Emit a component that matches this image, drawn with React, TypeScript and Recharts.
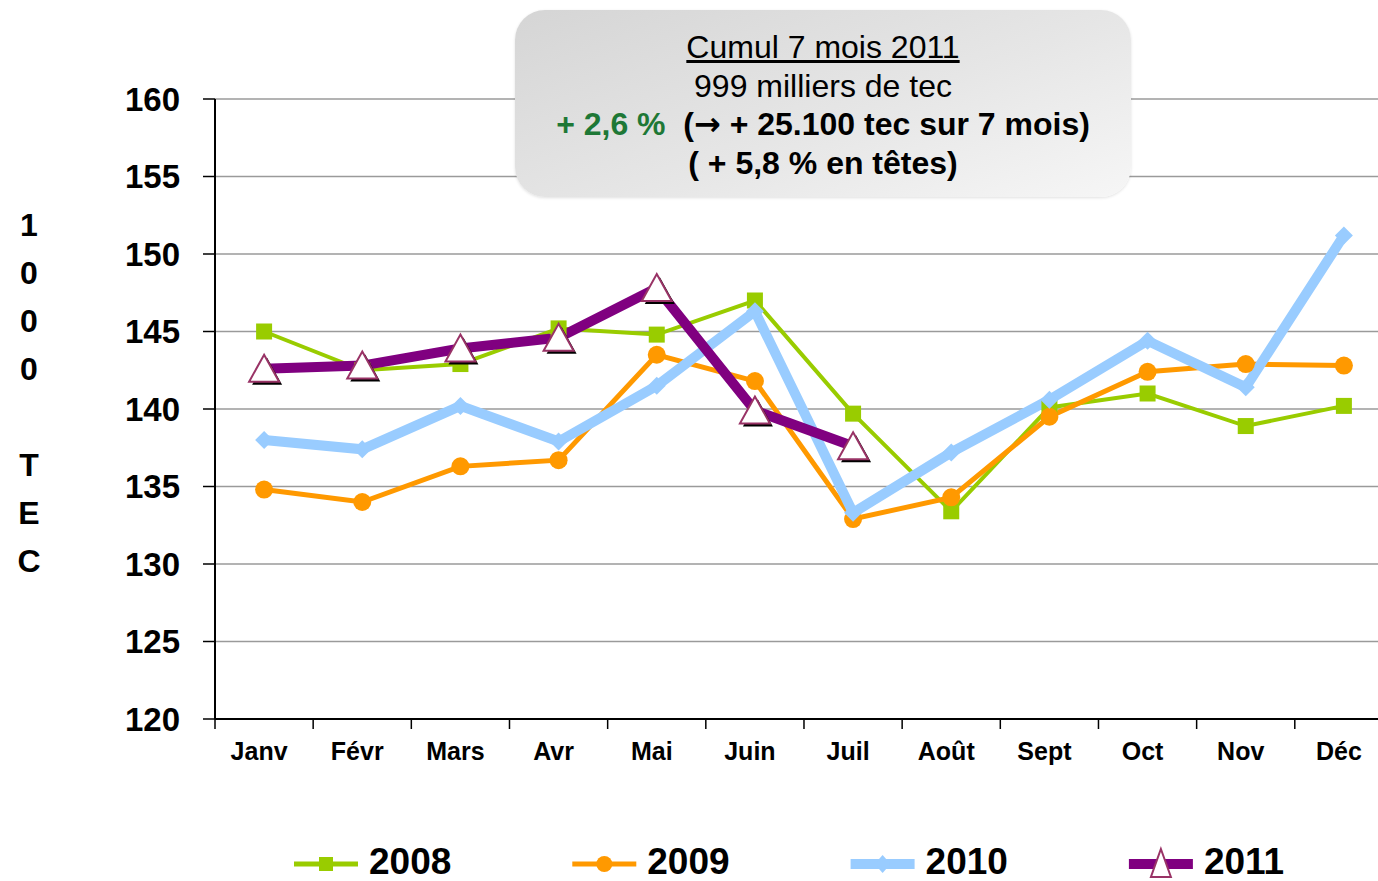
import React from "react";
import { LineChart, Line, XAxis, YAxis, CartesianGrid } from "recharts";

const months = ["Janv", "Févr", "Mars", "Avr", "Mai", "Juin", "Juil", "Août", "Sept", "Oct", "Nov", "Déc"];
const v2008 = [145.0, 142.5, 142.9, 145.2, 144.8, 147.0, 139.7, 133.4, 140.1, 141.0, 138.9, 140.2];
const v2009 = [134.8, 134.0, 136.3, 136.7, 143.5, 141.8, 132.9, 134.3, 139.5, 142.4, 142.9, 142.8];
const v2010 = [138.0, 137.4, 140.2, 137.9, 141.5, 146.3, 133.3, 137.2, 140.6, 144.4, 141.4, 151.2];
const v2011 = [142.6, 142.8, 143.9, 144.6, 147.8, 139.9, 137.6];
const yTicks = [120, 125, 130, 135, 140, 145, 150, 155, 160];
const yLabel = ["1", "0", "0", "0", "\u00a0", "T", "E", "C"];

const data = months.map((m, i) => ({
  month: m,
  y2008: v2008[i],
  y2009: v2009[i],
  y2010: v2010[i],
  y2011: v2011[i] ?? null,
}));

const FONT = '"Liberation Sans", Arial, Helvetica, sans-serif';
const HALF_STEP = 49.1;

const GREEN = "#99cc00";
const ORANGE = "#ff9900";
const BLUE = "#99ccff";
const PURPLE = "#800080";
const TRI_EDGE = "#993366";

function MonthTick(props: any) {
  const { x, y, payload, index } = props;
  return (
    <g>
      <line x1={x - HALF_STEP} y1={y} x2={x - HALF_STEP} y2={y + 10} stroke="#000" strokeWidth={1.5} />
      {index === months.length - 1 && (
        <line x1={x + HALF_STEP} y1={y} x2={x + HALF_STEP} y2={y + 10} stroke="#000" strokeWidth={1.5} />
      )}
      <text x={x - 5} y={y + 41} textAnchor="middle" fontFamily={FONT} fontWeight="bold" fontSize={25} fill="#000">
        {payload.value}
      </text>
    </g>
  );
}

const squareDot = (p: any) =>
  p.cy == null ? <g key={p.index} /> : <rect key={p.index} x={p.cx - 8} y={p.cy - 8} width={16} height={16} fill={GREEN} />;

const circleDot = (p: any) =>
  p.cy == null ? <g key={p.index} /> : <circle key={p.index} cx={p.cx} cy={p.cy} r={9} fill={ORANGE} />;

const diamondDot = (p: any) =>
  p.cy == null ? (
    <g key={p.index} />
  ) : (
    <polygon
      key={p.index}
      points={`${p.cx},${p.cy - 9} ${p.cx + 9},${p.cy} ${p.cx},${p.cy + 9} ${p.cx - 9},${p.cy}`}
      fill={BLUE}
    />
  );

const triPts = (cx: number, cy: number) => `${cx},${cy - 14} ${cx + 15},${cy + 13} ${cx - 15},${cy + 13}`;

const triangleDot = (p: any) =>
  p.cy == null ? (
    <g key={p.index} />
  ) : (
    <g key={p.index}>
      <polygon points={triPts(p.cx + 3, p.cy + 3)} fill="#000" />
      <polygon points={triPts(p.cx, p.cy)} fill="#fff" stroke={TRI_EDGE} strokeWidth={2} />
    </g>
  );

const legendItems = [
  { name: "2008", color: GREEN, width: 5, marker: "square" },
  { name: "2009", color: ORANGE, width: 5, marker: "circle" },
  { name: "2010", color: BLUE, width: 10, marker: "diamond" },
  { name: "2011", color: PURPLE, width: 10, marker: "triangle" },
];

function LegendMarker({ kind, cx, cy, color }: { kind: string; cx: number; cy: number; color: string }) {
  if (kind === "square") return <rect x={cx - 7} y={cy - 7} width={14} height={14} fill={color} />;
  if (kind === "circle") return <circle cx={cx} cy={cy} r={8} fill={color} />;
  if (kind === "diamond")
    return <polygon points={`${cx},${cy - 9} ${cx + 8},${cy} ${cx},${cy + 9} ${cx - 8},${cy}`} fill={color} />;
  return <polygon points={`${cx},${cy - 15} ${cx + 10},${cy + 13} ${cx - 10},${cy + 13}`} fill="#fff" stroke={TRI_EDGE} strokeWidth={2} />;
}

export default function App() {
  return (
    <div
      style={{
        position: "absolute",
        left: 0,
        top: 0,
        width: 1378,
        height: 881,
        overflow: "hidden",
        background: "#fff",
        fontFamily: FONT,
      }}
    >
      <LineChart width={1400} height={881} data={data} margin={{ top: 99, right: 7, bottom: 122, left: 0 }}>
        <CartesianGrid vertical={false} stroke="#9a9a9a" strokeWidth={1.5} />
        <XAxis
          dataKey="month"
          interval={0}
          height={40}
          tickLine={false}
          tickSize={0}
          tickMargin={0}
          padding={{ left: HALF_STEP, right: HALF_STEP }}
          axisLine={{ stroke: "#000", strokeWidth: 2 }}
          tick={<MonthTick />}
        />
        <YAxis
          width={215}
          domain={[120, 160]}
          ticks={yTicks}
          interval={0}
          tickSize={12}
          tickMargin={23}
          axisLine={{ stroke: "#000", strokeWidth: 2 }}
          tickLine={{ stroke: "#000", strokeWidth: 1.5 }}
          tick={{ fill: "#000", fontFamily: FONT, fontWeight: "bold", fontSize: 33 }}
        />
        <Line dataKey="y2008" stroke={GREEN} strokeWidth={4} dot={squareDot} isAnimationActive={false} />
        <Line dataKey="y2009" stroke={ORANGE} strokeWidth={5} dot={circleDot} isAnimationActive={false} />
        <Line dataKey="y2010" stroke={BLUE} strokeWidth={10} dot={diamondDot} isAnimationActive={false} />
        <Line dataKey="y2011" stroke={PURPLE} strokeWidth={10} dot={triangleDot} isAnimationActive={false} />
      </LineChart>

      <div
        style={{
          position: "absolute",
          left: 14,
          top: 201,
          width: 30,
          textAlign: "center",
          fontWeight: "bold",
          fontSize: 32,
          lineHeight: "48px",
        }}
      >
        {yLabel.map((c, i) => (
          <div key={i}>{c}</div>
        ))}
      </div>

      <div
        style={{
          position: "absolute",
          left: 515,
          top: 10,
          width: 616,
          height: 187,
          borderRadius: 30,
          background: "linear-gradient(160deg, #d5d5d5 0%, #e6e6e6 55%, #f6f6f6 100%)",
          boxShadow: "0 1px 3px rgba(0,0,0,0.12)",
          textAlign: "center",
          fontSize: 32,
          lineHeight: "38.5px",
          paddingTop: 18,
          boxSizing: "border-box",
          color: "#000",
        }}
      >
        <div style={{ textDecoration: "underline" }}>Cumul 7 mois 2011</div>
        <div>999 milliers de tec</div>
        <div style={{ fontWeight: "bold", whiteSpace: "nowrap" }}>
          <span style={{ color: "#1e7836" }}>+ 2,6 %</span>
          {"\u00a0\u00a0("}
          <span style={{ fontFamily: '"DejaVu Sans", sans-serif' }}>{"\u2192"}</span>
          {" + 25.100 tec sur 7 mois)"}
        </div>
        <div style={{ fontWeight: "bold" }}>( + 5,8 % en têtes)</div>
      </div>

      <svg style={{ position: "absolute", left: 0, top: 828 }} width={1378} height={53}>
        {legendItems.map((it, i) => {
          const x0 = 294 + i * 278.3;
          return (
            <g key={it.name}>
              <line x1={x0} y1={36} x2={x0 + 64} y2={36} stroke={it.color} strokeWidth={it.width} />
              <LegendMarker kind={it.marker} cx={x0 + 32} cy={36} color={it.color} />
              <text x={x0 + 75} y={46} fontFamily={FONT} fontWeight="bold" fontSize={37} fill="#000">
                {it.name}
              </text>
            </g>
          );
        })}
      </svg>
    </div>
  );
}
